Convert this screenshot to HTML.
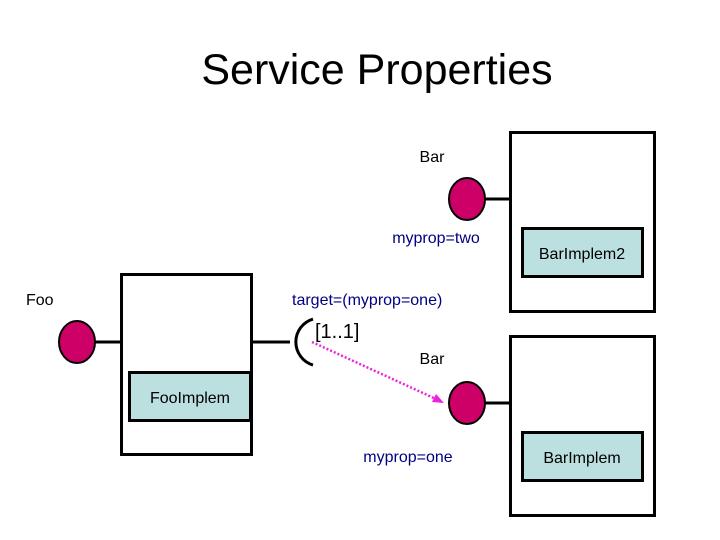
<!DOCTYPE html>
<html><head><style>
body{margin:0;background:#fff}
svg{display:block}
text{font-family:"Liberation Sans",Arial,sans-serif}
</style></head><body>
<svg width="720" height="540" viewBox="0 0 720 540">
<rect width="720" height="540" fill="#fff"/>
<text x="377" y="84" font-size="43" text-anchor="middle" fill="#000">Service Properties</text>

<!-- Foo -->
<rect x="121.5" y="274.5" width="130" height="180" fill="#fff" stroke="#000" stroke-width="3"/>
<rect x="129.5" y="372.5" width="121" height="48" fill="#bcdfe0" stroke="#000" stroke-width="3"/>
<text x="190" y="403" font-size="16" text-anchor="middle">FooImplem</text>
<line x1="95" y1="342" x2="121" y2="342" stroke="#000" stroke-width="3"/>
<ellipse cx="77" cy="342" rx="18" ry="21" fill="#cc0066" stroke="#000" stroke-width="2"/>
<text x="26" y="305" font-size="16">Foo</text>
<line x1="251" y1="342" x2="290" y2="342" stroke="#000" stroke-width="3"/>
<path d="M313,319 A24,24 0 0 0 313,365" fill="none" stroke="#000" stroke-width="3"/>
<text x="292" y="305" font-size="16" fill="#000080">target=(myprop=one)</text>
<text x="315" y="338" font-size="20">[1..1]</text>
<line x1="312" y1="342" x2="436" y2="399" stroke="#ee22dd" stroke-width="2.5" stroke-dasharray="2,2"/>
<polygon points="444,403 432,402 436,394" fill="#ee22dd"/>

<!-- Bar 2 -->
<rect x="510.5" y="132.5" width="144" height="179" fill="#fff" stroke="#000" stroke-width="3"/>
<rect x="522.5" y="228.5" width="120" height="48" fill="#bcdfe0" stroke="#000" stroke-width="3"/>
<text x="582" y="259" font-size="16" text-anchor="middle">BarImplem2</text>
<line x1="485" y1="199" x2="510" y2="199" stroke="#000" stroke-width="3"/>
<ellipse cx="467" cy="199" rx="18" ry="21" fill="#cc0066" stroke="#000" stroke-width="2"/>
<text x="432" y="162" font-size="16" text-anchor="middle">Bar</text>
<text x="436" y="243" font-size="16" text-anchor="middle" fill="#000080">myprop=two</text>

<!-- Bar 1 -->
<rect x="510.5" y="336.5" width="144" height="179" fill="#fff" stroke="#000" stroke-width="3"/>
<rect x="522.5" y="432.5" width="120" height="48" fill="#bcdfe0" stroke="#000" stroke-width="3"/>
<text x="582" y="463" font-size="16" text-anchor="middle">BarImplem</text>
<line x1="485" y1="403" x2="510" y2="403" stroke="#000" stroke-width="3"/>
<ellipse cx="467" cy="403" rx="18" ry="21" fill="#cc0066" stroke="#000" stroke-width="2"/>
<text x="432" y="364" font-size="16" text-anchor="middle">Bar</text>
<text x="408" y="462" font-size="16" text-anchor="middle" fill="#000080">myprop=one</text>
</svg>
</body></html>
